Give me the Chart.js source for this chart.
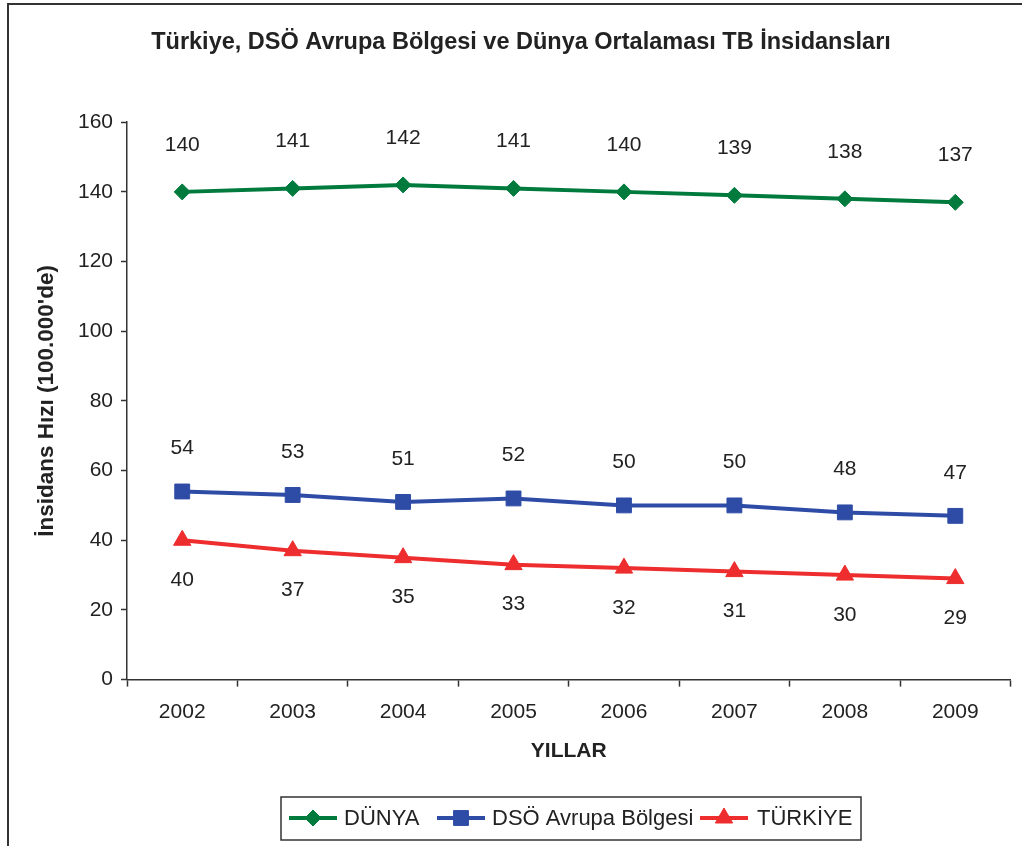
<!DOCTYPE html>
<html>
<head>
<meta charset="utf-8">
<script src="https://cdn.jsdelivr.net/npm/chart.js@4"></script>
<style>
  body { margin: 0; background: #fff; }
  canvas { display: block; }
</style>
</head>
<body>
<canvas id="chart1" width="1022" height="846"></canvas>
<script>
// values
const years = ['2002', '2003', '2004', '2005', '2006', '2007', '2008', '2009'];
const dunya = [140, 141, 142, 141, 140, 139, 138, 137];
const avrupa = [54, 53, 51, 52, 50, 50, 48, 47];
const turkiye = [40, 37, 35, 33, 32, 31, 30, 29];
const seriesNames = ['DÜNYA', 'DSÖ Avrupa Bölgesi', 'TÜRKİYE'];

const FONT = "'Liberation Sans', Arial, sans-serif";
const GREEN = 'rgb(0, 122, 61)';
const BLUE = 'rgb(46, 76, 166)';
const RED = 'rgb(238, 45, 46)';

// value labels above / below each point
const valueLabels = {
  id: 'valueLabels',
  afterDatasetsDraw(chart) {
    const ctx = chart.ctx;
    ctx.save();
    ctx.font = '21px ' + FONT;
    ctx.fillStyle = '#222';
    ctx.textAlign = 'center';
    ctx.textBaseline = 'middle';
    chart.data.datasets.forEach((ds, i) => {
      const meta = chart.getDatasetMeta(i);
      meta.data.forEach((pt, j) => {
        ctx.fillText(ds.data[j], pt.x, pt.y + ds.labelOffset);
      });
    });
    ctx.restore();
  }
};

// outer frame + boxed legend at the bottom
const frameAndLegend = {
  id: 'frameAndLegend',
  afterDraw(chart) {
    const ctx = chart.ctx;
    ctx.save();
    ctx.strokeStyle = '#333';
    ctx.lineWidth = 2;
    ctx.beginPath();
    ctx.moveTo(8, 846);
    ctx.lineTo(8, 4);
    ctx.lineTo(1022, 4);
    ctx.stroke();

    // legend box
    ctx.lineWidth = 1.5;
    ctx.strokeRect(281, 797, 580, 43);
    const items = [
      { x: 289, textX: 344 },
      { x: 437, textX: 492 },
      { x: 700, textX: 757 }
    ];
    const y = 818;
    ctx.font = '22px ' + FONT;
    ctx.textBaseline = 'middle';
    ctx.textAlign = 'left';
    chart.data.datasets.forEach((ds, i) => {
      const it = items[i];
      ctx.strokeStyle = ds.borderColor;
      ctx.lineWidth = ds.borderWidth;
      ctx.beginPath();
      ctx.moveTo(it.x, y);
      ctx.lineTo(it.x + 48, y);
      ctx.stroke();
      ctx.fillStyle = ds.backgroundColor;
      ctx.strokeStyle = ds.borderColor;
      ctx.lineWidth = 1;
      Chart.helpers.drawPoint(ctx, {
        pointStyle: ds.pointStyle,
        radius: ds.pointRadius,
        borderWidth: 1,
        rotation: 0
      }, it.x + 24, y);
      ctx.fillStyle = '#222';
      ctx.fillText(ds.label, it.textX, y + 1);
    });
    ctx.restore();
  }
};

const config = {
  type: 'line',
  data: {
    labels: years,
    datasets: [{
      label: seriesNames[0],
      data: dunya,
      borderColor: GREEN,
      backgroundColor: GREEN,
      borderWidth: 4,
      pointStyle: 'rectRot',
      pointRadius: 8,
      pointBorderWidth: 1,
      labelOffset: -47
    }, {
      label: seriesNames[1],
      data: avrupa,
      borderColor: BLUE,
      backgroundColor: BLUE,
      borderWidth: 4,
      pointStyle: 'rect',
      pointRadius: 10.5,
      pointBorderWidth: 1,
      labelOffset: -43
    }, {
      label: seriesNames[2],
      data: turkiye,
      borderColor: RED,
      backgroundColor: RED,
      borderWidth: 4,
      pointStyle: 'triangle',
      pointRadius: 10,
      pointBorderWidth: 1,
      labelOffset: 40
    }]
  },
  options: {
    responsive: false,
    animation: false,
    layout: {
      padding: { left: 26, right: 6, top: 0, bottom: 82 }
    },
    plugins: {
      legend: { display: false },
      tooltip: { enabled: false },
      title: {
        display: true,
        text: 'Türkiye, DSÖ Avrupa Bölgesi ve Dünya Ortalaması TB İnsidansları',
        color: '#222',
        font: { family: FONT, size: 23.5, weight: 'bold' },
        padding: { top: 28, bottom: 66 }
      }
    },
    scales: {
      x: {
        offset: true,
        grid: {
          offset: true,
          drawOnChartArea: false,
          tickLength: 7,
          tickColor: '#333',
          tickWidth: 1.5
        },
        border: { color: '#333', width: 1.5 },
        ticks: {
          color: '#222',
          padding: 13,
          font: { family: FONT, size: 21 }
        },
        title: {
          display: true,
          text: 'YILLAR',
          color: '#222',
          font: { family: FONT, size: 21, weight: 'bold' },
          padding: { top: 1, bottom: 0 }
        }
      },
      y: {
        min: 0,
        max: 160,
        afterFit(scale) { scale.width = 101; },
        grid: {
          drawOnChartArea: false,
          tickLength: 6,
          tickColor: '#333',
          tickWidth: 1.5
        },
        border: { color: '#333', width: 1.5 },
        ticks: {
          stepSize: 20,
          color: '#222',
          padding: 8,
          font: { family: FONT, size: 21 }
        },
        title: {
          display: true,
          text: "İnsidans Hızı (100.000'de)",
          color: '#222',
          font: { family: FONT, size: 22.5, weight: 'bold' },
          padding: { top: 7, bottom: 0 }
        }
      }
    }
  },
  plugins: [valueLabels, frameAndLegend]
};

new Chart(document.getElementById('chart1'), config);
</script>
</body>
</html>
